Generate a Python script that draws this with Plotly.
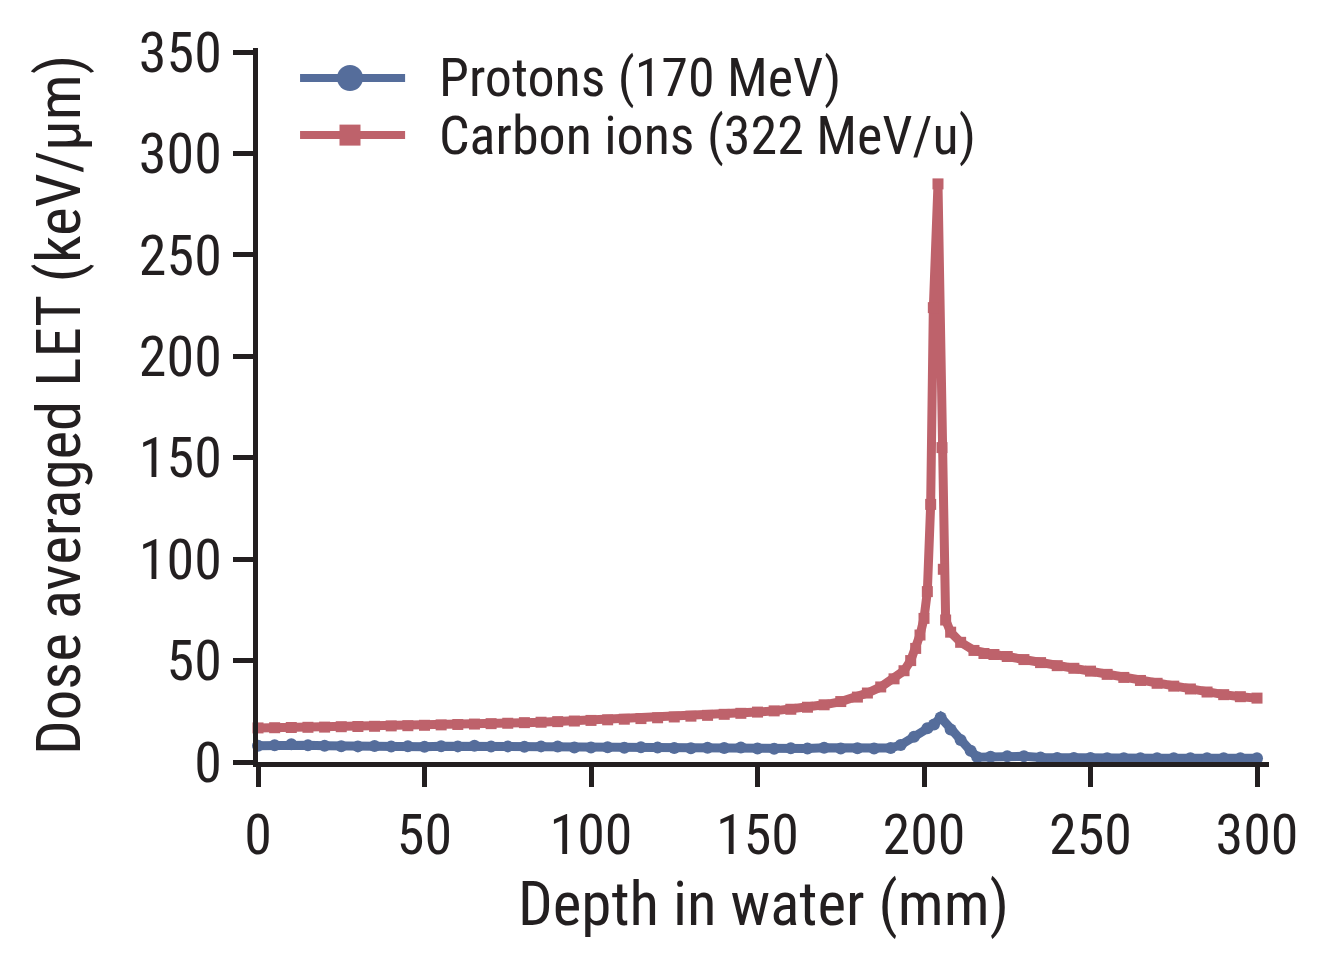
import plotly.graph_objects as go

# ── Data ─────────────────────────────────────────────────────────────────────
proton_depth = [0, 5, 10, 15, 20, 25, 30, 35, 40, 45, 50, 55, 60, 65, 70, 75, 80,
                85, 90, 95, 100, 105, 110, 115, 120, 125, 130, 135, 140, 145, 150,
                155, 160, 165, 170, 175, 180, 185, 190, 193, 197, 201, 203, 205,
                208, 211, 214, 216, 220, 225, 230, 235, 240, 245, 250, 255, 260,
                265, 270, 275, 280, 285, 290, 295, 300]
proton_let = [8.0, 8.3, 8.7, 8.2, 8.0, 7.8, 7.7, 7.9, 7.6, 7.8, 7.5, 7.8, 7.7, 8.0,
              7.6, 7.7, 7.5, 7.7, 7.6, 7.2, 7.1, 7.3, 7.0, 7.3, 7.1, 6.9, 6.8, 7.0,
              6.9, 7.1, 6.6, 6.5, 6.8, 6.7, 7.0, 6.7, 6.8, 6.6, 6.9, 8.4, 12.5,
              16.6, 18.5, 22.0, 16.0, 10.8, 5.5, 2.4, 2.6, 2.8, 2.8, 2.2, 2.0, 2.0,
              2.0, 1.9, 1.9, 1.9, 1.9, 1.9, 1.9, 1.9, 1.9, 1.9, 1.9]

carbon_depth = [0, 5, 10, 15, 20, 25, 30, 35, 40, 45, 50, 55, 60, 65, 70, 75, 80,
                85, 90, 95, 100, 105, 110, 115, 120, 125, 130, 135, 140, 145, 150,
                155, 160, 165, 170, 175, 180, 183, 187, 191, 194, 196, 197.5,
                198.8, 200, 201, 202, 202.8, 204.2, 205.4, 205.8, 206.5, 208, 211,
                215, 218, 221, 225, 230, 235, 240, 245, 250, 255, 260, 265, 270,
                275, 280, 285, 290, 295, 300]
carbon_let = [16.8, 16.9, 17.0, 17.1, 17.2, 17.4, 17.5, 17.6, 17.8, 17.9, 18.1,
              18.3, 18.5, 18.7, 18.9, 19.1, 19.4, 19.6, 19.9, 20.2, 20.5, 20.8,
              21.1, 21.4, 21.8, 22.2, 22.6, 23.0, 23.5, 24.0, 24.6, 25.2, 26.0,
              27.0, 28.2, 29.8, 32.0, 34.0, 37.0, 41.0, 45.0, 50.0, 56.0, 62.6,
              70.8, 84.0, 127.0, 224.0, 285.0, 155.0, 95.0, 70.0, 64.0, 59.0,
              55.0, 53.5, 53.0, 52.0, 50.5, 49.0, 47.5, 46.2, 44.8, 43.2, 41.7,
              40.2, 38.8, 37.4, 36.0, 34.5, 33.2, 32.2, 31.5]

x_ticks = [0, 50, 100, 150, 200, 250, 300]
y_ticks = [0, 50, 100, 150, 200, 250, 300, 350]

series_names = ["Protons (170 MeV)", "Carbon ions (322 MeV/u)"]

BLUE = "#556d9b"
RED = "#be626b"
INK = "#231f20"
FONT = "Liberation Sans Narrow, Roboto Condensed, DejaVu Sans Condensed, sans-serif"

fig = go.Figure()

fig.add_trace(go.Scatter(
    x=carbon_depth, y=carbon_let, mode="lines+markers",
    line=dict(color=RED, width=9),
    marker=dict(symbol="square", size=11, color=RED),
    showlegend=False, cliponaxis=False,
))
fig.add_trace(go.Scatter(
    x=proton_depth, y=proton_let, mode="lines+markers",
    line=dict(color=BLUE, width=9),
    marker=dict(symbol="circle", size=12, color=BLUE),
    showlegend=False, cliponaxis=False,
))

# ── Hand-drawn legend on an invisible [0,1] overlay axis ─────────────────────
leg_x = [0.0416, 0.091, 0.1455]
leg_y = [0.958, 0.878]
for name, yy, color, sym, msize in [
    (series_names[0], leg_y[0], BLUE, "circle", 26),
    (series_names[1], leg_y[1], RED, "square", 21),
]:
    fig.add_trace(go.Scatter(
        x=leg_x, y=[yy] * 3, xaxis="x2", yaxis="y2", mode="lines+markers",
        line=dict(color=color, width=8),
        marker=dict(symbol=sym, size=[0, msize, 0], color=color,
                    opacity=1, line=dict(width=0)),
        showlegend=False, hoverinfo="skip",
    ))
    fig.add_annotation(
        text=name, xref="x2", yref="y2", x=0.177, y=yy,
        xanchor="left", yanchor="middle", showarrow=False,
        font=dict(size=54, color=INK, family=FONT),
    )

axis_common = dict(
    showgrid=False, zeroline=False,
    showline=True, linecolor=INK, linewidth=5,
    ticks="outside", ticklen=20, tickwidth=5, tickcolor=INK,
    tickfont=dict(size=56, color=INK, family=FONT),
)

fig.update_layout(
    width=1326, height=961,
    margin=dict(l=250, r=65, t=40, b=207),
    paper_bgcolor="white", plot_bgcolor="white",
    font=dict(family=FONT, color=INK),
    xaxis=dict(
        range=[0, 303.6], tickvals=x_ticks, ticklabelstandoff=0,
        title=dict(text="Depth in water (mm)", font=dict(size=61, color=INK, family=FONT), standoff=0),
        **axis_common,
    ),
    yaxis=dict(
        range=[0, 352], tickvals=y_ticks, ticklabelstandoff=0,
        title=dict(text="Dose averaged LET (keV/μm)", font=dict(size=61, color=INK, family=FONT), standoff=40),
        **axis_common,
    ),
    xaxis2=dict(overlaying="x", range=[0, 1], visible=False),
    yaxis2=dict(overlaying="y", range=[0, 1], visible=False),
)

fig.write_html("out.html")
